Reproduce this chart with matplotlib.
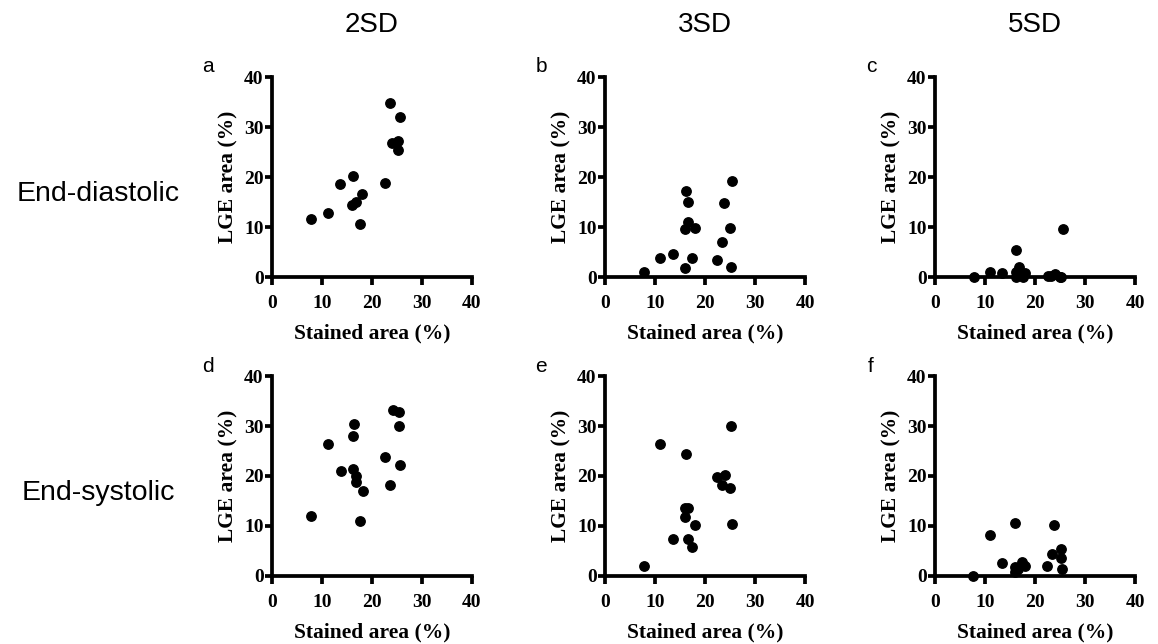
# Scatter grid: LGE area vs stained area at 2SD / 3SD / 5SD thresholds
import numpy as np
import matplotlib.pyplot as plt

W, H = 1158, 644

col_titles = ["2SD", "3SD", "5SD"]
row_titles = ["End-diastolic", "End-systolic"]
panel_letters = ["a", "b", "c", "d", "e", "f"]
axis_ticks = [0, 10, 20, 30, 40]

# stained area (%) per panel
x_a = [7.7, 11.2, 13.5, 16.1, 16.0, 16.7, 18.0, 17.5, 22.5, 23.5, 24.0, 25.2, 25.1, 25.5]
y_a = [11.7, 12.9, 18.6, 20.3, 14.5, 15.1, 16.6, 10.6, 18.9, 34.9, 26.9, 27.3, 25.4, 32.1]

x_b = [7.7, 11.0, 13.5, 16.0, 15.9, 16.1, 16.5, 16.5, 17.3, 17.9, 22.3, 23.4, 23.8, 25.0, 25.1, 25.4]
y_b = [1.0, 3.9, 4.7, 1.9, 9.6, 17.3, 15.0, 11.0, 3.9, 9.9, 3.4, 7.0, 14.9, 9.8, 2.0, 19.3]

x_c = [7.8, 11.1, 13.5, 16.1, 16.7, 16.1, 16.2, 17.5, 17.9, 22.5, 23.2, 23.9, 25.2, 25.5, 25.0]
y_c = [0.0, 1.0, 0.8, 5.5, 2.1, 1.0, 0.0, 0.0, 0.9, 0.3, 0.3, 0.7, 0.0, 9.7, 0.1]

x_d = [7.8, 11.2, 13.7, 16.3, 16.1, 16.2, 16.8, 16.7, 18.1, 17.5, 22.5, 23.5, 24.1, 25.4, 25.3, 25.6]
y_d = [12.1, 26.4, 21.0, 30.4, 28.0, 21.5, 20.0, 18.9, 17.1, 11.1, 23.9, 18.2, 33.3, 32.9, 30.0, 22.2]

x_e = [7.7, 11.0, 13.5, 16.0, 16.0, 16.5, 16.1, 16.5, 17.3, 17.9, 22.3, 23.4, 23.9, 25.0, 25.1, 25.4]
y_e = [2.0, 26.4, 7.5, 11.8, 13.7, 13.7, 24.4, 7.5, 5.9, 10.3, 19.8, 18.3, 20.3, 17.7, 30.0, 10.4]

x_f = [7.7, 11.0, 13.5, 16.0, 16.0, 16.0, 16.5, 17.3, 17.9, 22.3, 23.3, 23.8, 25.1, 25.1, 25.4]
y_f = [0.0, 8.3, 2.7, 10.7, 1.9, 0.9, 1.5, 2.8, 2.1, 2.1, 4.4, 10.3, 5.5, 3.6, 1.4]

panel_data = [(x_a, y_a), (x_b, y_b), (x_c, y_c), (x_d, y_d), (x_e, y_e), (x_f, y_f)]

serif = ["Liberation Serif", "DejaVu Serif"]
sans = ["Liberation Sans", "DejaVu Sans"]

fig = plt.figure(figsize=(W / 100, H / 100), dpi=100)

lefts = [272, 605, 935]
tops = [77, 376]
aw, ah = 200, 200

for i, (xs, ys) in enumerate(panel_data):
    r, c = divmod(i, 3)
    L, T = lefts[c], tops[r]
    ax = fig.add_axes([L / W, 1 - (T + ah) / H, aw / W, ah / H])
    ax.scatter(xs, ys, s=46, color="black", zorder=3, clip_on=False)
    ax.set_xlim(0, 40)
    ax.set_ylim(0, 40)
    ax.set_xticks(axis_ticks)
    ax.set_yticks(axis_ticks)
    for side in ["top", "right"]:
        ax.spines[side].set_visible(False)
    for side in ["left", "bottom"]:
        ax.spines[side].set_linewidth(2.7)
    ax.tick_params(axis="both", direction="out", width=2.7, length=5, pad=1)
    ax.tick_params(axis="x", length=6, pad=7)
    for lab in ax.get_xticklabels() + ax.get_yticklabels():
        lab.set_fontfamily(serif)
        lab.set_fontweight("bold")
        lab.set_fontsize(14)
    ax.set_xlabel("Stained area (%)", family=serif, fontweight="bold", fontsize=15.5, labelpad=8)
    ax.set_ylabel("LGE area (%)", family=serif, fontweight="bold", fontsize=15.5, labelpad=4)
    fig.text((L - 64) / W, 1 - (T - 10) / H, panel_letters[i], family=sans,
             fontsize=15, ha="center", va="center")

for c, t in enumerate(col_titles):
    fig.text((lefts[c] + aw / 2) / W, 1 - 25 / H, t, family=sans, fontsize=20,
             ha="center", va="center")

for r, t in enumerate(row_titles):
    fig.text(98 / W, 1 - (tops[r] + 117) / H, t, family=sans, fontsize=20.5,
             ha="center", va="center")

fig.savefig("out.png", dpi=100)
